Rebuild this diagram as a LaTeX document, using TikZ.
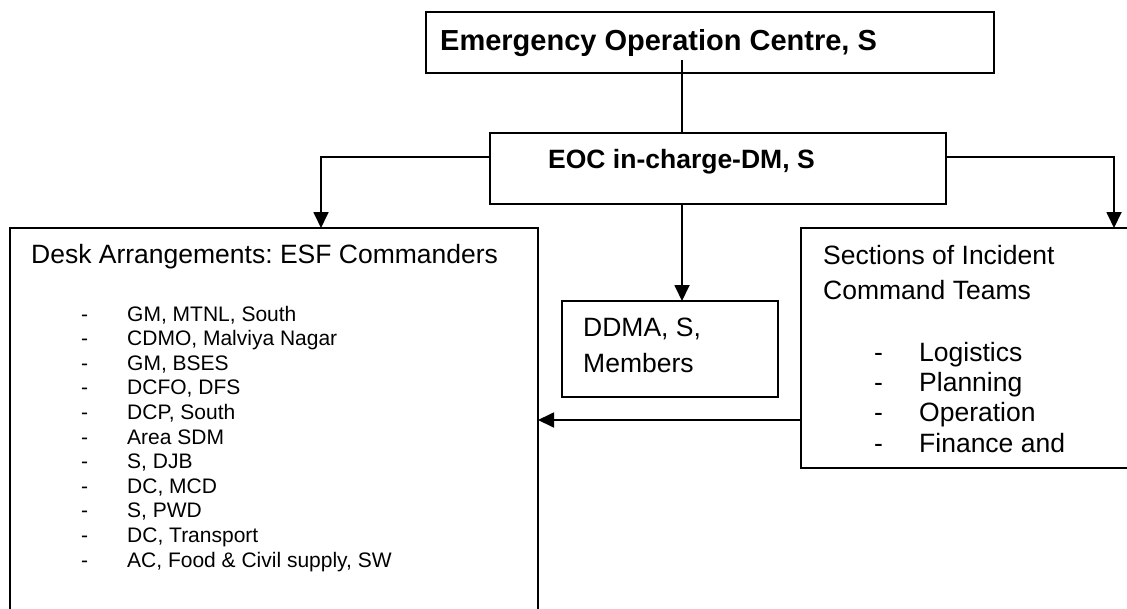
\documentclass[tikz,border=0pt]{standalone}
\usepackage{fontspec}
\setmainfont{Liberation Sans}
\usetikzlibrary{arrows.meta}
\frenchspacing
\begin{document}
\begin{tikzpicture}[x=1pt,y=-1pt,
  box/.style={draw, line width=1.6pt, inner sep=0pt, outer sep=0pt, anchor=north west},
  link/.style={line width=1.8pt},
  arr/.style={link, -{Triangle[length=16pt,width=15pt]}},
  txt/.style={anchor=base west, inner sep=0pt},
  head/.style={txt, font=\fontsize{29}{34}\bfseries\selectfont},
  boldlbl/.style={txt, font=\fontsize{26.5}{30}\bfseries\selectfont},
  lbl/.style={txt, font=\fontsize{26.5}{30}\selectfont},
  item/.style={txt, font=\fontsize{21}{25}\selectfont}
]
\useasboundingbox (0,0) rectangle (1127,608);
\clip (0,0) rectangle (1127,608);
\fill[white] (0,0) rectangle (1127,608);

% boxes
\node[box, minimum width=568pt, minimum height=61pt] (eoc) at (426,12) {};
\node[box, minimum width=456pt, minimum height=71pt] (incharge) at (490,133) {};
\node[box, minimum width=528pt, minimum height=430pt] (desk) at (10,228) {};
\node[box, minimum width=216pt, minimum height=96pt] (ddma) at (562,301) {};
\node[box, minimum width=340pt, minimum height=240pt] (ict) at (801,228) {};

% box texts
\node[head] (eoct) at (440,50) {Emergency Operation Centre, S};
\node[boldlbl] (inct) at (548,168) {EOC in-charge-DM, S};
\node[lbl] (deskt) at (31,263) {Desk Arrangements: ESF Commanders};
\node[lbl] (ddma1) at (583,336) {DDMA, S,};
\node[lbl] (ddma2) at (583,372) {Members};
\node[lbl] (ict1) at (823,264) {Sections of Incident};
\node[lbl] (ict2) at (823,299) {Command Teams};

\foreach \t [count=\i from 0] in {GM{,} MTNL{,} South, CDMO{,} Malviya Nagar, GM{,} BSES,
    DCFO{,} DFS, DCP{,} South, Area SDM, S{,} DJB, DC{,} MCD, S{,} PWD, DC{,} Transport,
    AC{,} Food \& Civil supply{,} SW} {
  \node[item] (dd\i) at (81,321+24.6*\i) {-};
  \node[item] (de\i) at (127,321+24.6*\i) {\t};
}

\foreach \t [count=\i from 0] in {Logistics, Planning, Operation, Finance and} {
  \node[lbl] (sd\i) at (874,361+30.4*\i) {-};
  \node[lbl] (se\i) at (919,361+30.4*\i) {\t};
}

% connectors
\coordinate (drop) at (682,60);
\coordinate (lturn) at (321,157);
\coordinate (rturn) at (1114,157);
\coordinate (back) at (801,420);

\draw[link] (drop) -- (drop |- incharge.north);
\draw[arr] (incharge.south -| drop) -- (ddma.north -| drop);
\draw[arr] (incharge.west |- lturn) -- (lturn) -- (lturn |- desk.north);
\draw[arr] (incharge.east |- rturn) -- (rturn) -- (rturn |- ict.north);
\draw[arr] (ict.west |- back) -- (desk.east |- back);
\end{tikzpicture}
\end{document}
